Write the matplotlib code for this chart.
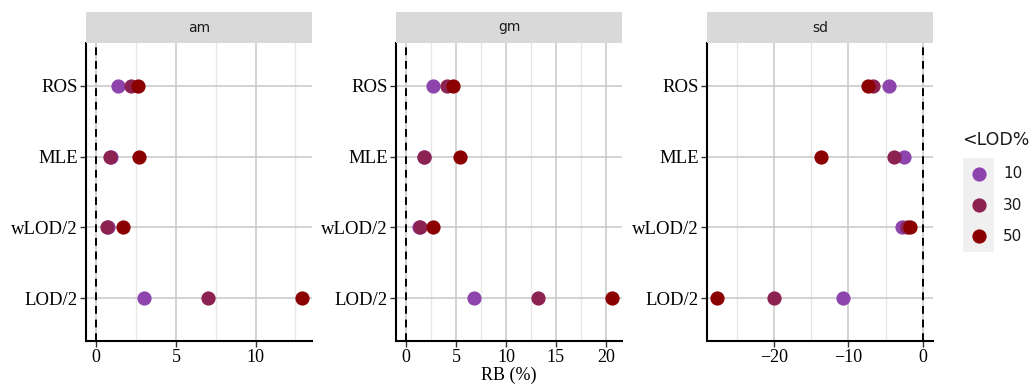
import matplotlib
matplotlib.use("Agg")
import matplotlib.pyplot as plt
import numpy as np

# data
methods = ["LOD/2", "wLOD/2", "MLE", "ROS"]
panels = ["am", "gm", "sd"]
lod_levels = ["10", "30", "50"]
colors = ["#8E44AD", "#8B2252", "#8B0000"]

# values per panel, per <LOD% level, in the order of methods
am_10 = [3.0, 0.75, 0.9, 1.35]
am_30 = [7.0, 0.7, 0.88, 2.2]
am_50 = [12.9, 1.65, 2.7, 2.6]
gm_10 = [6.8, 1.3, 1.75, 2.7]
gm_30 = [13.2, 1.37, 1.8, 4.1]
gm_50 = [20.6, 2.7, 5.4, 4.7]
sd_10 = [-10.7, -2.8, -2.5, -4.5]
sd_30 = [-20.0, -2.1, -3.9, -6.7]
sd_50 = [-27.6, -1.7, -13.7, -7.36]

values = {
    "am": [am_10, am_30, am_50],
    "gm": [gm_10, gm_30, gm_50],
    "sd": [sd_10, sd_30, sd_50],
}
major_ticks = {"am": [0, 5, 10], "gm": [0, 5, 10, 15, 20], "sd": [-20, -10, 0]}

W, H = 1035, 385
fig = plt.figure(figsize=(W / 100, H / 100), dpi=100)

lefts = [86, 396, 707]
pw = 226
top, bottom, strip_top = 43, 341, 12
serif = ["Liberation Serif", "DejaVu Serif"]

for i, name in enumerate(panels):
    ax = fig.add_axes([lefts[i] / W, 1 - bottom / H, pw / W, (bottom - top) / H])
    series = values[name]
    allv = np.concatenate([np.array(s) for s in series] + [[0]])
    lo, hi = allv.min(), allv.max()
    pad = (hi - lo) * 0.05
    ax.set_xlim(lo - pad, hi + pad)
    ax.set_ylim(0.4, 4.6)
    y = np.arange(1, len(methods) + 1)

    ax.set_xticks(major_ticks[name])
    mt = major_ticks[name]
    step = mt[1] - mt[0]
    minors = np.arange(mt[0] - step / 2, hi + pad, step)
    ax.set_xticks([m for m in minors if lo - pad < m < hi + pad], minor=True)
    ax.grid(True, which="major", axis="both", color="#c8c8c8", lw=1.1, zorder=0)
    ax.grid(True, which="minor", axis="x", color="#e6e6e6", lw=0.9, zorder=0)
    ax.set_axisbelow(True)

    ax.axvline(0, color="black", ls=(0, (4, 3)), lw=1.4, zorder=1)

    for vals, c in zip(series, colors):
        ax.scatter(vals, y, s=105, color=c, zorder=3, linewidths=0)

    ax.set_yticks(y)
    ax.set_yticklabels(methods, fontfamily=serif, fontsize=13.5)
    for lab in ax.get_xticklabels():
        lab.set_fontfamily(serif)
        lab.set_fontsize(13)
    ax.tick_params(axis="both", which="major", length=4, width=1, color="#333333", pad=2)
    ax.tick_params(axis="x", which="minor", length=0)
    for sp in ["top", "right"]:
        ax.spines[sp].set_visible(False)
    for sp in ["left", "bottom"]:
        ax.spines[sp].set_linewidth(1.5)
        ax.spines[sp].set_color("black")

    # facet strip
    sax = fig.add_axes([lefts[i] / W, 1 - top / H, pw / W, (top - strip_top) / H])
    sax.set_facecolor("#d9d9d9")
    sax.set_xticks([])
    sax.set_yticks([])
    for sp in sax.spines.values():
        sp.set_visible(False)
    sax.text(0.5, 0.5, name, ha="center", va="center", fontsize=10,
             color="#1a1a1a", family="DejaVu Sans", transform=sax.transAxes)

# shared x label
fig.text((lefts[1] + pw / 2) / W, 1 - 375 / H, "RB (%)", ha="center", va="center",
         fontfamily=serif, fontsize=13)

# legend
lax = fig.add_axes([963 / W, 1 - 252 / H, 31 / W, 94 / H])
lax.set_facecolor("#f0f0f0")
lax.set_xlim(0, 1)
lax.set_ylim(0, 3)
lax.set_xticks([])
lax.set_yticks([])
for sp in lax.spines.values():
    sp.set_visible(False)
for k, (lab, c) in enumerate(zip(lod_levels, colors)):
    yy = 2.5 - k
    lax.scatter([0.5], [yy], s=105, color=c, linewidths=0)
    lax.text(1.3, yy, lab, ha="left", va="center", fontsize=11, family="DejaVu Sans",
             color="#1a1a1a", transform=lax.transData, clip_on=False)
fig.text(962 / W, 1 - 140 / H, "<LOD%", ha="left", va="center", fontsize=12.5,
         family="DejaVu Sans", color="#1a1a1a")

fig.savefig("out.png", dpi=100)
